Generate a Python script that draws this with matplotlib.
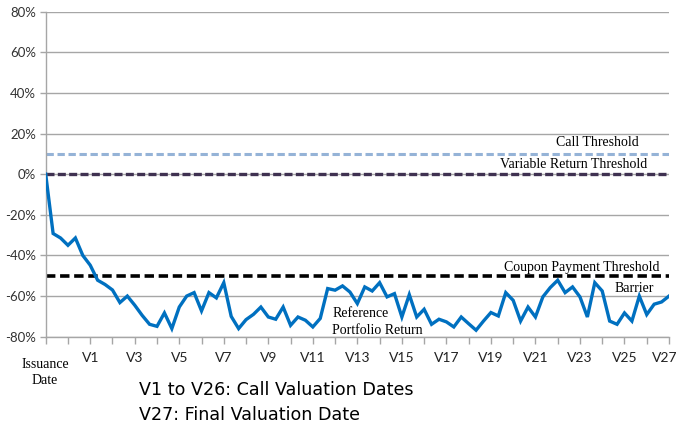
import matplotlib
matplotlib.use("Agg")
import matplotlib.pyplot as plt
import matplotlib.transforms as mtransforms
import numpy as np

# Reference portfolio return (%), 3 observations per valuation period
portfolio_return = [
    0.0, -29.2, -31.4, -35.0, -31.4, -40.0, -44.8, -52.2, -54.3, -57.0,
    -63.2, -60.0, -64.5, -69.5, -73.9, -74.9, -68.3, -76.0, -65.4, -60.0,
    -58.3, -67.3, -58.3, -60.9, -53.4, -70.0, -76.0, -71.6, -69.0, -65.4,
    -70.3, -71.4, -65.4, -74.4, -70.3, -71.9, -75.2, -71.0, -56.3, -57.1,
    -55.0, -58.0, -63.7, -55.5, -57.5, -53.4, -60.4, -58.8, -70.3, -59.3,
    -70.3, -66.5, -73.9, -71.4, -72.7, -75.2, -70.3, -73.6, -76.8, -72.3,
    -68.1, -69.8, -58.3, -62.1, -72.3, -65.4, -70.3, -60.4, -55.8, -52.2,
    -58.3, -55.5, -60.4, -70.3, -53.4, -57.5, -72.3, -73.9, -68.3, -72.3,
    -60.0, -69.1, -64.0, -62.9, -60.0,
]
call_threshold = 10.0
variable_return_threshold = 0.0
coupon_threshold = -50.0
barrier = -60.0
valuation_labels = ["V%d" % k for k in range(1, 28)]
y_ticks = [-80, -60, -40, -20, 0, 20, 40, 60, 80]

fig = plt.figure(figsize=(6.78, 4.32), dpi=100)
ax = fig.add_axes([45.7 / 678, 1 - 336.7 / 432, (669 - 45.7) / 678, (336.7 - 11.7) / 432])

n = len(portfolio_return)
x = np.arange(n)

grid_c = "#A6A6A6"
for yv in y_ticks:
    ax.axhline(yv, color=grid_c, lw=1.0, zorder=1)

ax.axhline(call_threshold, color="#95B3D7", lw=2.2, dashes=(2.4, 1.2), zorder=2)
ax.axhline(variable_return_threshold, color="#3F3151", lw=2.4, dashes=(2.4, 1.0), zorder=2)
ax.axhline(coupon_threshold, color="black", lw=2.6, dashes=(2.6, 1.3), zorder=2)

ax.plot(x, portfolio_return, color="#0070C0", lw=2.4, zorder=3, solid_joinstyle="miter")

ax.set_xlim(0, n - 1)
ax.set_ylim(-80, 80)

ax.set_yticks(y_ticks)
ax.set_yticklabels(["%d%%" % v for v in y_ticks], fontfamily="Lato", fontsize=9.5, color="#333333")

tick_pos = np.arange(0, n, 3)
ax.set_xticks(tick_pos)
labels = []
for i, p in enumerate(tick_pos):
    k = i - 1  # valuation number
    if k >= 1 and k % 2 == 1:
        labels.append(valuation_labels[k - 1])
    else:
        labels.append("")
ax.set_xticklabels(labels, fontfamily="Lato", fontsize=10, color="#222222")
ax.tick_params(axis="x", length=5, width=1, color=grid_c, pad=6)
ax.tick_params(axis="y", length=4, width=1, color=grid_c, pad=3)

# nudge last tick label so it stays inside the figure
last = ax.get_xticklabels()[-1]
last.set_transform(last.get_transform() + mtransforms.ScaledTranslation(-4 / 100, 0, fig.dpi_scale_trans))

for s in ["top", "right"]:
    ax.spines[s].set_visible(False)
for s in ["left", "bottom"]:
    ax.spines[s].set_color(grid_c)
    ax.spines[s].set_linewidth(1.0)

serif = "Liberation Serif"
fs = 10
ax.text(74.3, 15.8, "Call Threshold", family=serif, fontsize=fs, ha="center", va="center")
ax.text(71.1, 4.9, "Variable Return Threshold", family=serif, fontsize=fs, ha="center", va="center")
ax.text(72.3, -45.8, "Coupon Payment Threshold", family=serif, fontsize=fs, ha="center", va="center")
ax.text(79.3, -56.2, "Barrier", family=serif, fontsize=fs, ha="center", va="center")
ax.text(38.6, -68.5, "Reference", family=serif, fontsize=fs, ha="left", va="center")
ax.text(38.6, -76.8, "Portfolio Return", family=serif, fontsize=fs, ha="left", va="center")

fig.text(45 / 678, 1 - 365 / 432, "Issuance", family=serif, fontsize=fs, ha="center", va="center")
fig.text(45 / 678, 1 - 381 / 432, "Date", family=serif, fontsize=fs, ha="center", va="center")

fig.text(139 / 678, 1 - 390 / 432, "V1 to V26: Call Valuation Dates", family="DejaVu Sans", fontsize=12.6, ha="left", va="center")
fig.text(139 / 678, 1 - 415 / 432, "V27: Final Valuation Date", family="DejaVu Sans", fontsize=12.6, ha="left", va="center")

fig.savefig("out.png", dpi=100)
